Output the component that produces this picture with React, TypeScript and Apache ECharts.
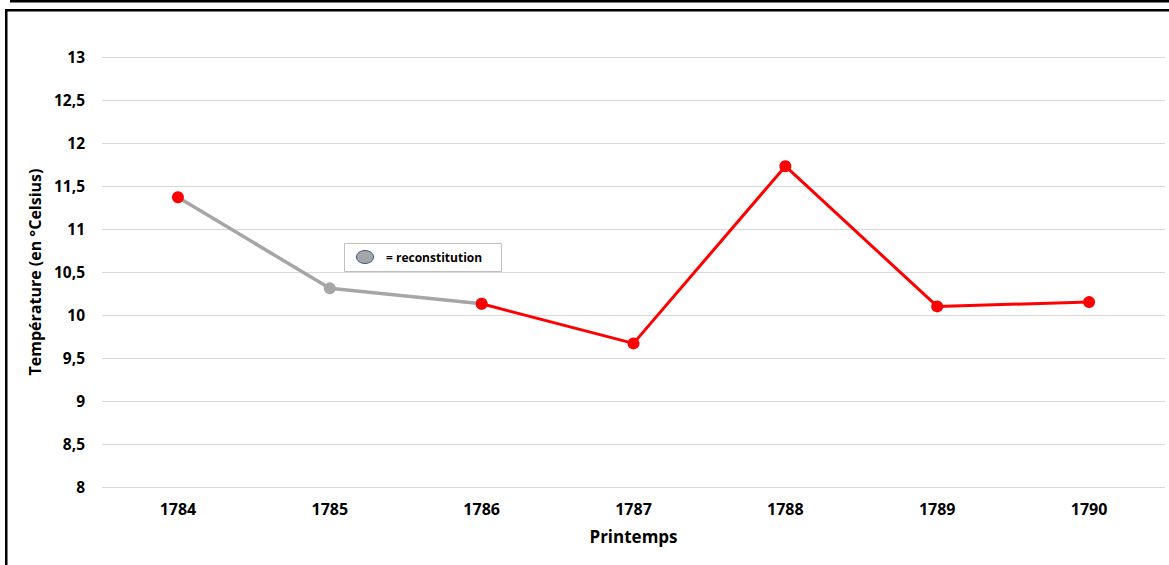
import React, { useEffect, useRef } from "react";
import * as echarts from "echarts";

const years = ["1784", "1785", "1786", "1787", "1788", "1789", "1790"];
const reconstitution = [11.37, 10.31, 10.13, null, null, null, null];
const observed = [null, null, 10.13, 9.67, 11.73, 10.1, 10.15];
const yTicks = [8, 8.5, 9, 9.5, 10, 10.5, 11, 11.5, 12, 12.5, 13];

const RED = "#FF0000";
const GRAY = "#A6A6A6";
const FONT = "Open Sans";

export default function App() {
  const ref = useRef<HTMLDivElement>(null);
  useEffect(() => {
    document.body.style.margin = "0";
    const chart = echarts.init(ref.current!, undefined, { renderer: "svg" });
    chart.setOption({
      animation: false,
      backgroundColor: "#ffffff",
      textStyle: { fontFamily: FONT },
      grid: { left: 102, right: 4, top: 57, bottom: 78 },
      xAxis: {
        type: "category",
        data: years,
        boundaryGap: true,
        axisLine: { show: false },
        axisTick: { show: false },
        axisLabel: { color: "#000", fontWeight: "bold", fontSize: 16, margin: 14, fontFamily: FONT },
        name: "Printemps",
        nameLocation: "middle",
        nameGap: 41,
        nameTextStyle: { color: "#000", fontWeight: "bold", fontSize: 17, fontFamily: FONT },
      },
      yAxis: {
        type: "value",
        min: yTicks[0],
        max: yTicks[yTicks.length - 1],
        interval: 0.5,
        axisLine: { show: false },
        axisTick: { show: false },
        splitLine: { lineStyle: { color: "#D9D9D9", width: 1 } },
        axisLabel: {
          color: "#000",
          fontWeight: "bold",
          fontSize: 15.5,
          margin: 17,
          fontFamily: FONT,
          formatter: (v: number) => String(v).replace(".", ","),
        },
        name: "Température (en °Celsius)",
        nameLocation: "middle",
        nameGap: 55,
        nameTextStyle: { color: "#000", fontWeight: "bold", fontSize: 16, fontFamily: FONT },
      },
      series: [
        {
          type: "line",
          data: reconstitution.map((v, i) =>
            v === null ? null : { value: v, itemStyle: { color: i === 0 ? RED : GRAY } }
          ),
          symbol: "circle",
          symbolSize: 12,
          showSymbol: true,
          lineStyle: { color: GRAY, width: 3.5 },
          itemStyle: { color: GRAY, borderWidth: 0 },
          z: 2,
        },
        {
          type: "line",
          data: observed,
          symbol: "circle",
          symbolSize: 12,
          lineStyle: { color: RED, width: 3 },
          itemStyle: { color: RED, borderWidth: 0 },
          z: 3,
        },
      ],
      graphic: [
        { type: "rect", z: 100, shape: { x: 10, y: 0, width: 1159, height: 2.5 }, style: { fill: "#000" } },
        { type: "rect", z: 100, shape: { x: 5, y: 9, width: 1164, height: 2.5 }, style: { fill: "#000" } },
        { type: "rect", z: 100, shape: { x: 5, y: 9, width: 2.5, height: 556 }, style: { fill: "#000" } },
        {
          type: "rect",
          z: 100,
          shape: { x: 344.5, y: 243.5, width: 157, height: 28 },
          style: { fill: "#fff", stroke: "#BFBFBF", lineWidth: 1 },
        },
        {
          type: "ellipse",
          z: 101,
          shape: { cx: 365, cy: 257, rx: 8.5, ry: 6.5 },
          style: { fill: GRAY, stroke: "#2F528F", lineWidth: 1 },
        },
        {
          type: "text",
          z: 101,
          x: 386,
          y: 257,
          style: {
            text: "= reconstitution",
            fill: "#000",
            font: `bold 12px ${FONT}`,
            verticalAlign: "middle",
          },
        },
      ],
    });
    return () => chart.dispose();
  }, []);
  return <div ref={ref} style={{ width: 1169, height: 565 }} />;
}
